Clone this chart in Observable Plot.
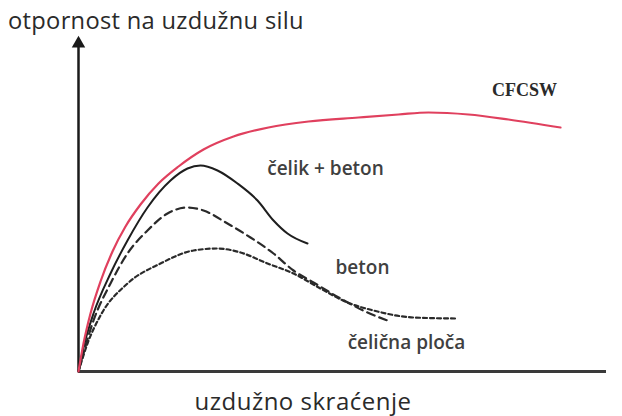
<!DOCTYPE html>
<html>
<head>
<meta charset="utf-8">
<script src="https://cdn.jsdelivr.net/npm/d3@7"></script>
<script src="https://cdn.jsdelivr.net/npm/@observablehq/plot@0.6"></script>
<style>
  html, body { margin: 0; padding: 0; background: #fff; }
  #wrap { width: 622px; height: 416px; overflow: hidden; font-family: "Open Sans", sans-serif; }
  #title { height: 35px; box-sizing: border-box; padding: 5px 0 0 8px; font-size: 23.7px; line-height: 30px; color: #2a2a2a; letter-spacing: 0.3px; white-space: nowrap; }
  #caption { height: 29px; text-align: center; width: 606px; font-size: 24px; line-height: 27px; color: #2a2a2a; letter-spacing: 0.5px; white-space: nowrap; }
  svg { display: block; }
</style>
</head>
<body>
<div id="wrap">
  <div id="title">otpornost na uzdužnu silu</div>
  <div id="chart"></div>
  <div id="caption">uzdužno skraćenje</div>
</div>
<script>
// Longitudinal shortening (arbitrary units) and resistance (arbitrary units)
const cfcswX = [0, 5, 12, 22, 34, 47, 62, 80, 100, 125, 155, 190, 230, 280, 320, 350, 390, 430, 482];
const cfcswY = [0, 28, 58, 90, 120, 145, 167, 188, 205, 222, 235, 244, 250, 254, 257, 259, 257, 252, 244];

const steelConcreteX = [0, 6, 15, 32, 49, 69, 92, 109, 122, 139, 159, 179, 195, 209, 229];
const steelConcreteY = [0, 28, 58, 98, 131, 164, 191, 203, 206, 201, 188, 171, 151, 138, 128];

const concreteX = [0, 15, 32, 49, 69, 89, 109, 125, 149, 172, 195, 215, 235, 262, 289, 309];
const concreteY = [0, 51, 88, 118, 141, 158, 164, 161, 148, 134, 118, 101, 89, 73, 59, 51];

const plateX = [0, 9, 22, 49, 82, 115, 139, 162, 189, 215, 242, 269, 295, 335, 377];
const plateY = [0, 28, 56, 88, 108, 121, 123, 119, 108, 98, 83, 69, 61, 54, 53];

const labelText = ["CFCSW", "čelik + beton", "beton", "čelična ploča"];
const labelX = [446, 247, 284, 328];
const labelY = [281, 203, 104, 29];

const pts = (xs, ys) => xs.map((x, i) => ({x, y: ys[i]}));
const cfcsw = pts(cfcswX, cfcswY);
const steelConcrete = pts(steelConcreteX, steelConcreteY);
const concrete = pts(concreteX, concreteY);
const plate = pts(plateX, plateY);
const labels = labelText.map((t, i) => ({t, x: labelX[i], y: labelY[i]}));

const chart = Plot.plot({
  width: 622,
  height: 352,
  marginLeft: 78,
  marginRight: 16,
  marginTop: 2,
  marginBottom: 16,
  x: {domain: [0, 528], axis: null},
  y: {domain: [0, 334], axis: null},
  marks: [
    Plot.ruleY([0], {stroke: "#3a3a3a", strokeWidth: 3}),
    Plot.ruleX([0], {y1: 0, y2: 326, stroke: "#1a1a1a", strokeWidth: 2.5}),
    Plot.dot([{x: 0, y: 328}], {x: "x", y: "y", symbol: "triangle", r: 5, fill: "#1a1a1a", stroke: "none"}),
    Plot.line(plate, {x: "x", y: "y", curve: "monotone-x", stroke: "#2a2a2a", strokeWidth: 2.2, strokeDasharray: "4,3"}),
    Plot.line(concrete, {x: "x", y: "y", curve: "monotone-x", stroke: "#2a2a2a", strokeWidth: 2.2, strokeDasharray: "8,5"}),
    Plot.line(steelConcrete, {x: "x", y: "y", curve: "monotone-x", stroke: "#1e1e1e", strokeWidth: 2}),
    Plot.line(cfcsw, {x: "x", y: "y", curve: "monotone-x", stroke: "#e0405e", strokeWidth: 2.2}),
    Plot.text(labels.slice(0, 1), {x: "x", y: "y", text: "t", fontFamily: "Liberation Serif", fontWeight: "bold", fontSize: 18, fill: "#2a2a2a"}),
    Plot.text(labels.slice(1), {x: "x", y: "y", text: "t", fontFamily: "Open Sans", fontWeight: 600, fontSize: 19, fill: "#404040"})
  ]
});
document.getElementById("chart").appendChild(chart);
</script>
</body>
</html>
